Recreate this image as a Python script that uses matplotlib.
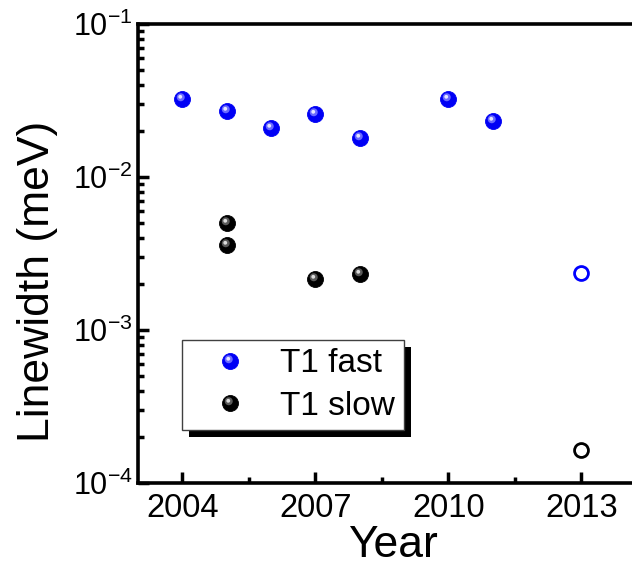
import numpy as np
import matplotlib
matplotlib.use("Agg")
import matplotlib.pyplot as plt
from matplotlib.path import Path
from matplotlib.patches import Rectangle
from matplotlib.ticker import FixedLocator, FuncFormatter, LogLocator, NullFormatter

plt.rcParams['font.family'] = ['Liberation Sans', 'DejaVu Sans']
plt.rcParams['mathtext.fontset'] = 'custom'
plt.rcParams['mathtext.rm'] = 'Liberation Sans'
plt.rcParams['mathtext.it'] = 'Liberation Sans'

# ---- data ----
fast_years = [2004, 2005, 2006, 2007, 2008, 2010, 2011]
fast_vals = [0.0324, 0.0270, 0.0210, 0.0258, 0.0180, 0.0324, 0.0232]
slow_years = [2005, 2005, 2007, 2008]
slow_vals = [0.0050, 0.0036, 0.00216, 0.00232]
open_fast_years = [2013]
open_fast_vals = [0.00236]
open_slow_years = [2013]
open_slow_vals = [0.000164]
xtick_labels = ['2004', '2007', '2010', '2013']
xticks = [2004, 2007, 2010, 2013]

fig = plt.figure(figsize=(6.32, 5.78), dpi=100)
ax = fig.add_axes([138/632, 95/578, 510/632, 459/578])

def hl_marker(cx, cy, r):
    circ = Path.circle(center=(cx, cy), radius=r)
    verts = np.vstack([circ.vertices, [[1, 1], [-1, -1]]])
    codes = np.concatenate([circ.codes, [Path.MOVETO, Path.MOVETO]])
    return Path(verts, codes)

hl1 = hl_marker(-0.22, 0.28, 0.5)
hl2 = hl_marker(-0.28, 0.34, 0.24)

def sphere(x, y, base, mid, light):
    ms = 11.5
    h0, = ax.plot(x, y, 'o', ls='none', ms=ms, mfc=base, mec=base, mew=0.6, zorder=3)
    h1, = ax.plot(x, y, ls='none', marker=hl1, ms=ms, mfc=mid, mec='none', zorder=3.1)
    h2, = ax.plot(x, y, ls='none', marker=hl2, ms=ms, mfc=light, mec='none', zorder=3.2)
    return (h0, h1, h2)

hf = sphere(fast_years, fast_vals, '#0000f5', '#6a6aff', '#e6e6ff')
hs = sphere(slow_years, slow_vals, '#000000', '#5a5a5a', '#dcdcdc')

ax.plot(open_fast_years, open_fast_vals, 'o', ls='none', ms=10, mfc='white', mec='#0000ff', mew=2, zorder=3)
ax.plot(open_slow_years, open_slow_vals, 'o', ls='none', ms=10, mfc='white', mec='black', mew=2, zorder=3)

ax.set_yscale('log')
ax.set_ylim(1e-4, 1e-1)
ax.set_xlim(2003, 2014.5)

ax.xaxis.set_major_locator(FixedLocator(xticks))
ax.set_xticklabels(xtick_labels)
ax.xaxis.set_minor_locator(FixedLocator([2005.5, 2008.5, 2011.5]))
ax.yaxis.set_major_locator(FixedLocator([1e-4, 1e-3, 1e-2, 1e-1]))
ax.yaxis.set_major_formatter(FuncFormatter(lambda v, p: r'$\mathregular{10^{%d}}$' % int(round(np.log10(v)))))
ax.yaxis.set_minor_locator(LogLocator(base=10, subs=np.arange(2, 10), numticks=20))
ax.yaxis.set_minor_formatter(NullFormatter())

ax.tick_params(axis='both', which='major', direction='in', length=8, width=2.5, pad=5)
ax.tick_params(axis='both', which='minor', direction='in', length=4.5, width=2.5)
ax.tick_params(axis='x', which='both', top=False)
ax.tick_params(axis='y', which='both', right=False)
ax.tick_params(axis='x', which='major', pad=7, labelsize=23.5)
ax.tick_params(axis='y', which='major', pad=4, labelsize=22)

for s in ['left', 'bottom', 'top']:
    ax.spines[s].set_linewidth(2.6)
ax.spines['right'].set_visible(False)

ax.set_xlabel('Year', fontsize=32, labelpad=1)
ax.set_ylabel('Linewidth (meV)', fontsize=32)
ax.yaxis.set_label_coords(-0.157, 0.44)

leg = ax.legend([hf, hs], ['T1 fast', 'T1 slow'], loc='upper left',
                bbox_to_anchor=((182 - 138) / 510, (483 - 340) / 459),
                borderaxespad=0, fontsize=24, frameon=True, fancybox=False,
                edgecolor='#404040', framealpha=1, handletextpad=0.3,
                borderpad=0.25, labelspacing=0.35, handlelength=2.4)
leg.get_frame().set_linewidth(1.0)

fig.canvas.draw()
bb = leg.get_window_extent()
shadow = Rectangle((bb.x0 + 7, bb.y0 - 7), bb.width, bb.height, transform=None,
                   facecolor='black', edgecolor='none', zorder=4.9, clip_on=False)
ax.add_artist(shadow)

fig.savefig('out.png', dpi=100)
